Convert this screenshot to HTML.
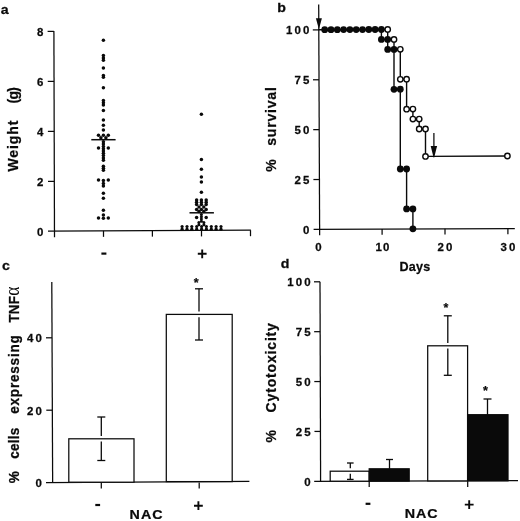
<!DOCTYPE html>
<html><head><meta charset="utf-8"><title>Figure</title>
<style>
html,body{margin:0;padding:0;background:#fff;}
svg{display:block;filter:blur(0.5px);}
text{font-family:"Liberation Sans",Arial,sans-serif;font-weight:bold;fill:#0a0a0a;}
</style></head><body>
<svg width="520" height="521" viewBox="0 0 520 521">
<rect width="520" height="521" fill="#fff"/>
<text transform="translate(0.7 14) scale(1.05 1)" font-size="13.5" text-anchor="start" stroke="#0a0a0a" stroke-width="0.25">a</text>
<line x1="53.90" y1="30.90" x2="54.50" y2="237.30" stroke="#0a0a0a" stroke-width="1.25"/>
<line x1="48.00" y1="231.10" x2="250.90" y2="230.20" stroke="#0a0a0a" stroke-width="1.25"/>
<text transform="translate(45.5 235.9) scale(1.04 1)" font-size="11" text-anchor="end" letter-spacing="2.0" stroke="#0a0a0a" stroke-width="0.25">0</text>
<line x1="48.01" y1="181.40" x2="54.31" y2="181.40" stroke="#0a0a0a" stroke-width="1.25"/>
<text transform="translate(45.5 185.9) scale(1.04 1)" font-size="11" text-anchor="end" letter-spacing="2.0" stroke="#0a0a0a" stroke-width="0.25">2</text>
<line x1="47.88" y1="131.40" x2="54.17" y2="131.40" stroke="#0a0a0a" stroke-width="1.25"/>
<text transform="translate(45.5 135.9) scale(1.04 1)" font-size="11" text-anchor="end" letter-spacing="2.0" stroke="#0a0a0a" stroke-width="0.25">4</text>
<line x1="47.74" y1="81.40" x2="54.04" y2="81.40" stroke="#0a0a0a" stroke-width="1.25"/>
<text transform="translate(45.5 85.9) scale(1.04 1)" font-size="11" text-anchor="end" letter-spacing="2.0" stroke="#0a0a0a" stroke-width="0.25">6</text>
<line x1="47.60" y1="31.40" x2="53.90" y2="31.40" stroke="#0a0a0a" stroke-width="1.25"/>
<text transform="translate(45.5 35.900000000000006) scale(1.04 1)" font-size="11" text-anchor="end" letter-spacing="2.0" stroke="#0a0a0a" stroke-width="0.25">8</text>
<line x1="103.50" y1="230.85" x2="103.50" y2="236.85" stroke="#0a0a0a" stroke-width="1.25"/>
<line x1="152.40" y1="230.64" x2="152.40" y2="236.64" stroke="#0a0a0a" stroke-width="1.25"/>
<line x1="201.50" y1="230.42" x2="201.50" y2="236.42" stroke="#0a0a0a" stroke-width="1.25"/>
<line x1="250.50" y1="230.20" x2="250.50" y2="236.20" stroke="#0a0a0a" stroke-width="1.25"/>
<text transform="translate(18.2 171.5) rotate(-90)" font-size="14" text-anchor="start" textLength="51" lengthAdjust="spacing" stroke="#0a0a0a" stroke-width="0.25">Weight</text>
<text transform="translate(18.2 103.5) rotate(-90)" font-size="14" text-anchor="start" textLength="16.5" lengthAdjust="spacing" stroke="#0a0a0a" stroke-width="0.25">(g)</text>
<rect x="101.4" y="252.5" width="5" height="2.2" fill="#0a0a0a"/>
<path d="M197.79999999999998 253.8h8.8M202.2 249.4v8.8" stroke="#0a0a0a" stroke-width="1.9" fill="none"/>
<circle cx="103.4" cy="40.2" r="1.75" fill="#0a0a0a"/>
<circle cx="103.4" cy="55.6" r="1.75" fill="#0a0a0a"/>
<circle cx="103.4" cy="57.9" r="1.75" fill="#0a0a0a"/>
<circle cx="103.4" cy="60.2" r="1.75" fill="#0a0a0a"/>
<circle cx="103.4" cy="68.1" r="1.75" fill="#0a0a0a"/>
<circle cx="103.4" cy="75.6" r="1.75" fill="#0a0a0a"/>
<circle cx="103.4" cy="77.3" r="1.75" fill="#0a0a0a"/>
<circle cx="103.4" cy="87.7" r="1.75" fill="#0a0a0a"/>
<circle cx="103.4" cy="100.6" r="1.75" fill="#0a0a0a"/>
<circle cx="103.4" cy="102.8" r="1.75" fill="#0a0a0a"/>
<circle cx="103.4" cy="105.0" r="1.75" fill="#0a0a0a"/>
<circle cx="103.4" cy="110.4" r="1.75" fill="#0a0a0a"/>
<circle cx="103.4" cy="120.0" r="1.75" fill="#0a0a0a"/>
<circle cx="103.4" cy="125.2" r="1.75" fill="#0a0a0a"/>
<circle cx="103.4" cy="130.0" r="1.75" fill="#0a0a0a"/>
<circle cx="103.4" cy="166.2" r="1.75" fill="#0a0a0a"/>
<circle cx="103.4" cy="168.2" r="1.75" fill="#0a0a0a"/>
<circle cx="103.4" cy="170.2" r="1.75" fill="#0a0a0a"/>
<circle cx="103.4" cy="180.5" r="1.75" fill="#0a0a0a"/>
<circle cx="103.4" cy="183.4" r="1.75" fill="#0a0a0a"/>
<circle cx="103.4" cy="185.9" r="1.75" fill="#0a0a0a"/>
<circle cx="103.4" cy="193.3" r="1.75" fill="#0a0a0a"/>
<circle cx="103.4" cy="198.3" r="1.75" fill="#0a0a0a"/>
<circle cx="103.4" cy="210.3" r="1.75" fill="#0a0a0a"/>
<circle cx="103.4" cy="215.0" r="1.75" fill="#0a0a0a"/>
<circle cx="103.4" cy="218.3" r="1.75" fill="#0a0a0a"/>
<circle cx="103.4" cy="141.8" r="1.75" fill="#0a0a0a"/>
<circle cx="103.4" cy="144.1" r="1.75" fill="#0a0a0a"/>
<circle cx="103.4" cy="146.4" r="1.75" fill="#0a0a0a"/>
<circle cx="103.4" cy="148.7" r="1.75" fill="#0a0a0a"/>
<circle cx="103.4" cy="151.0" r="1.75" fill="#0a0a0a"/>
<circle cx="103.4" cy="153.3" r="1.75" fill="#0a0a0a"/>
<circle cx="103.4" cy="155.6" r="1.75" fill="#0a0a0a"/>
<circle cx="103.4" cy="157.9" r="1.75" fill="#0a0a0a"/>
<circle cx="103.4" cy="160.2" r="1.75" fill="#0a0a0a"/>
<circle cx="98.5" cy="135.3" r="1.75" fill="#0a0a0a"/>
<circle cx="108.3" cy="135.3" r="1.75" fill="#0a0a0a"/>
<circle cx="98.5" cy="147.9" r="1.75" fill="#0a0a0a"/>
<circle cx="108.3" cy="147.9" r="1.75" fill="#0a0a0a"/>
<circle cx="98.5" cy="180.0" r="1.75" fill="#0a0a0a"/>
<circle cx="108.3" cy="180.0" r="1.75" fill="#0a0a0a"/>
<circle cx="98.5" cy="218.0" r="1.75" fill="#0a0a0a"/>
<circle cx="108.3" cy="218.0" r="1.75" fill="#0a0a0a"/>
<circle cx="103.4" cy="135.3" r="1.75" fill="#0a0a0a"/>
<circle cx="100.9" cy="137.7" r="1.75" fill="#0a0a0a"/>
<circle cx="105.9" cy="137.7" r="1.75" fill="#0a0a0a"/>
<line x1="91.30" y1="139.70" x2="115.60" y2="139.70" stroke="#0a0a0a" stroke-width="1.5"/>
<circle cx="201.4" cy="114.2" r="1.75" fill="#0a0a0a"/>
<circle cx="201.4" cy="159.6" r="1.75" fill="#0a0a0a"/>
<circle cx="201.4" cy="169.3" r="1.75" fill="#0a0a0a"/>
<circle cx="201.4" cy="177.1" r="1.75" fill="#0a0a0a"/>
<circle cx="201.4" cy="182.0" r="1.75" fill="#0a0a0a"/>
<circle cx="201.4" cy="192.2" r="1.75" fill="#0a0a0a"/>
<circle cx="196.6" cy="200.0" r="1.75" fill="#0a0a0a"/>
<circle cx="196.6" cy="202.2" r="1.75" fill="#0a0a0a"/>
<circle cx="196.6" cy="204.6" r="1.75" fill="#0a0a0a"/>
<circle cx="201.4" cy="200.0" r="1.75" fill="#0a0a0a"/>
<circle cx="201.4" cy="202.2" r="1.75" fill="#0a0a0a"/>
<circle cx="201.4" cy="204.6" r="1.75" fill="#0a0a0a"/>
<circle cx="206.2" cy="200.0" r="1.75" fill="#0a0a0a"/>
<circle cx="206.2" cy="202.2" r="1.75" fill="#0a0a0a"/>
<circle cx="206.2" cy="204.6" r="1.75" fill="#0a0a0a"/>
<circle cx="199.0" cy="206.9" r="1.75" fill="#0a0a0a"/>
<circle cx="203.8" cy="206.9" r="1.75" fill="#0a0a0a"/>
<circle cx="196.6" cy="209.5" r="1.75" fill="#0a0a0a"/>
<circle cx="201.4" cy="209.5" r="1.75" fill="#0a0a0a"/>
<circle cx="206.2" cy="209.5" r="1.75" fill="#0a0a0a"/>
<circle cx="199.0" cy="211.5" r="1.75" fill="#0a0a0a"/>
<circle cx="203.8" cy="211.5" r="1.75" fill="#0a0a0a"/>
<line x1="189.50" y1="212.80" x2="213.90" y2="212.80" stroke="#0a0a0a" stroke-width="1.5"/>
<circle cx="201.4" cy="214.5" r="1.5" fill="#0a0a0a"/>
<circle cx="201.4" cy="216.8" r="1.5" fill="#0a0a0a"/>
<circle cx="201.4" cy="219.1" r="1.5" fill="#0a0a0a"/>
<circle cx="196.6" cy="217.5" r="1.75" fill="#0a0a0a"/>
<circle cx="206.2" cy="217.5" r="1.75" fill="#0a0a0a"/>
<circle cx="201.4" cy="221.3" r="1.5" fill="#0a0a0a"/>
<circle cx="198.9" cy="222.6" r="1.5" fill="#0a0a0a"/>
<circle cx="198.9" cy="224.8" r="1.5" fill="#0a0a0a"/>
<circle cx="203.9" cy="222.6" r="1.5" fill="#0a0a0a"/>
<circle cx="203.9" cy="224.8" r="1.5" fill="#0a0a0a"/>
<circle cx="182.1" cy="226.5" r="1.6" fill="#0a0a0a"/>
<circle cx="182.1" cy="229.2" r="1.6" fill="#0a0a0a"/>
<circle cx="187.0" cy="226.5" r="1.6" fill="#0a0a0a"/>
<circle cx="187.0" cy="229.2" r="1.6" fill="#0a0a0a"/>
<circle cx="191.8" cy="226.5" r="1.6" fill="#0a0a0a"/>
<circle cx="191.8" cy="229.2" r="1.6" fill="#0a0a0a"/>
<circle cx="196.7" cy="226.5" r="1.6" fill="#0a0a0a"/>
<circle cx="196.7" cy="229.2" r="1.6" fill="#0a0a0a"/>
<circle cx="201.6" cy="226.5" r="1.6" fill="#0a0a0a"/>
<circle cx="201.6" cy="229.2" r="1.6" fill="#0a0a0a"/>
<circle cx="206.4" cy="226.5" r="1.6" fill="#0a0a0a"/>
<circle cx="206.4" cy="229.2" r="1.6" fill="#0a0a0a"/>
<circle cx="211.3" cy="226.5" r="1.6" fill="#0a0a0a"/>
<circle cx="211.3" cy="229.2" r="1.6" fill="#0a0a0a"/>
<circle cx="216.1" cy="226.5" r="1.6" fill="#0a0a0a"/>
<circle cx="216.1" cy="229.2" r="1.6" fill="#0a0a0a"/>
<circle cx="221.0" cy="226.5" r="1.6" fill="#0a0a0a"/>
<circle cx="221.0" cy="229.2" r="1.6" fill="#0a0a0a"/>
<text transform="translate(277.3 11.8) scale(1.05 1)" font-size="13.5" text-anchor="start" stroke="#0a0a0a" stroke-width="0.25">b</text>
<line x1="318.70" y1="4.50" x2="319.65" y2="235.20" stroke="#0a0a0a" stroke-width="1.25"/>
<line x1="313.60" y1="229.40" x2="514.80" y2="228.50" stroke="#0a0a0a" stroke-width="1.25"/>
<path d="M315.9 18.3 L321.9 18.3 L318.9 29.2 Z" fill="#0a0a0a"/>
<text transform="translate(311.4 233.70000000000002) scale(1.04 1)" font-size="11" text-anchor="end" letter-spacing="2.0" stroke="#0a0a0a" stroke-width="0.25">0</text>
<line x1="313.40" y1="179.53" x2="319.40" y2="179.53" stroke="#0a0a0a" stroke-width="1.25"/>
<text transform="translate(311.4 183.82500000000002) scale(1.04 1)" font-size="11" text-anchor="end" letter-spacing="2.0" stroke="#0a0a0a" stroke-width="0.25">25</text>
<line x1="313.20" y1="129.65" x2="319.20" y2="129.65" stroke="#0a0a0a" stroke-width="1.25"/>
<text transform="translate(311.4 133.95000000000002) scale(1.04 1)" font-size="11" text-anchor="end" letter-spacing="2.0" stroke="#0a0a0a" stroke-width="0.25">50</text>
<line x1="313.00" y1="79.78" x2="319.00" y2="79.78" stroke="#0a0a0a" stroke-width="1.25"/>
<text transform="translate(311.4 84.075) scale(1.04 1)" font-size="11" text-anchor="end" letter-spacing="2.0" stroke="#0a0a0a" stroke-width="0.25">75</text>
<line x1="312.80" y1="29.90" x2="318.80" y2="29.90" stroke="#0a0a0a" stroke-width="1.25"/>
<text transform="translate(311.4 34.2) scale(1.04 1)" font-size="11" text-anchor="end" letter-spacing="2.0" stroke="#0a0a0a" stroke-width="0.25">100</text>
<text transform="translate(319.4 250.6) scale(1.04 1)" font-size="11" text-anchor="middle" letter-spacing="2.0" stroke="#0a0a0a" stroke-width="0.25">0</text>
<line x1="382.10" y1="229.09" x2="382.10" y2="234.79" stroke="#0a0a0a" stroke-width="1.25"/>
<text transform="translate(383.09999999999997 250.6) scale(1.04 1)" font-size="11" text-anchor="middle" letter-spacing="1.3" stroke="#0a0a0a" stroke-width="0.25">10</text>
<line x1="445.00" y1="228.81" x2="445.00" y2="234.51" stroke="#0a0a0a" stroke-width="1.25"/>
<text transform="translate(446.0 250.6) scale(1.04 1)" font-size="11" text-anchor="middle" letter-spacing="2.0" stroke="#0a0a0a" stroke-width="0.25">20</text>
<line x1="507.90" y1="228.53" x2="507.90" y2="234.23" stroke="#0a0a0a" stroke-width="1.25"/>
<text transform="translate(508.9 250.6) scale(1.04 1)" font-size="11" text-anchor="middle" letter-spacing="2.0" stroke="#0a0a0a" stroke-width="0.25">30</text>
<text transform="translate(399.5 270.7) scale(1.03 1)" font-size="12.2" text-anchor="start" letter-spacing="0.2" stroke="#0a0a0a" stroke-width="0.25">Days</text>
<text transform="translate(275.8 171.8) rotate(-90)" font-size="14" text-anchor="start" stroke="#0a0a0a" stroke-width="0.25">%</text>
<text transform="translate(275.8 145.8) rotate(-90)" font-size="14" text-anchor="start" textLength="58.6" lengthAdjust="spacing" stroke="#0a0a0a" stroke-width="0.25">survival</text>
<line x1="433.90" y1="133.00" x2="433.90" y2="150.00" stroke="#0a0a0a" stroke-width="1.25"/>
<path d="M430.7 146 L437.1 146 L434.2 157.6 L433.6 157.6 Z" fill="#0a0a0a"/>
<polyline fill="none" stroke="#0a0a0a" stroke-width="1.4" points="318.4,29.8 387.7,29.4 387.7,39.4 394.0,39.4 394.0,49.4 400.3,49.3 400.3,79.3 406.6,79.2 406.6,109.2 412.9,109.1 412.9,119.1 419.2,119.1 419.2,129.0 425.5,129.0 425.5,156.4 507.4,156.0"/>
<polyline fill="none" stroke="#0a0a0a" stroke-width="1.4" points="324.7,29.7 381.4,29.5 381.4,39.4 387.7,39.4 387.7,49.4 394.0,49.4 394.0,89.3 400.3,89.2 400.3,169.0 406.6,169.0 406.6,208.9 412.9,208.9 412.9,228.8"/>
<circle cx="387.7" cy="29.4" r="2.7" fill="#fff" stroke="#0a0a0a" stroke-width="1.4"/>
<circle cx="394.0" cy="39.4" r="2.7" fill="#fff" stroke="#0a0a0a" stroke-width="1.4"/>
<circle cx="400.3" cy="49.3" r="2.7" fill="#fff" stroke="#0a0a0a" stroke-width="1.4"/>
<circle cx="400.3" cy="79.3" r="2.7" fill="#fff" stroke="#0a0a0a" stroke-width="1.4"/>
<circle cx="406.6" cy="79.2" r="2.7" fill="#fff" stroke="#0a0a0a" stroke-width="1.4"/>
<circle cx="406.6" cy="109.2" r="2.7" fill="#fff" stroke="#0a0a0a" stroke-width="1.4"/>
<circle cx="412.9" cy="109.1" r="2.7" fill="#fff" stroke="#0a0a0a" stroke-width="1.4"/>
<circle cx="412.9" cy="119.1" r="2.7" fill="#fff" stroke="#0a0a0a" stroke-width="1.4"/>
<circle cx="419.2" cy="119.1" r="2.7" fill="#fff" stroke="#0a0a0a" stroke-width="1.4"/>
<circle cx="419.2" cy="129.0" r="2.7" fill="#fff" stroke="#0a0a0a" stroke-width="1.4"/>
<circle cx="425.5" cy="129.0" r="2.7" fill="#fff" stroke="#0a0a0a" stroke-width="1.4"/>
<circle cx="425.5" cy="156.4" r="2.7" fill="#fff" stroke="#0a0a0a" stroke-width="1.4"/>
<circle cx="507.4" cy="156.0" r="2.7" fill="#fff" stroke="#0a0a0a" stroke-width="1.4"/>
<circle cx="324.7" cy="29.7" r="3.4" fill="#0a0a0a"/>
<circle cx="331.0" cy="29.7" r="3.4" fill="#0a0a0a"/>
<circle cx="337.3" cy="29.7" r="3.4" fill="#0a0a0a"/>
<circle cx="343.6" cy="29.6" r="3.4" fill="#0a0a0a"/>
<circle cx="349.9" cy="29.6" r="3.4" fill="#0a0a0a"/>
<circle cx="356.2" cy="29.6" r="3.4" fill="#0a0a0a"/>
<circle cx="362.5" cy="29.6" r="3.4" fill="#0a0a0a"/>
<circle cx="368.8" cy="29.5" r="3.4" fill="#0a0a0a"/>
<circle cx="375.1" cy="29.5" r="3.4" fill="#0a0a0a"/>
<circle cx="381.4" cy="29.5" r="3.4" fill="#0a0a0a"/>
<circle cx="381.4" cy="39.4" r="3.4" fill="#0a0a0a"/>
<circle cx="387.7" cy="39.4" r="3.4" fill="#0a0a0a"/>
<circle cx="387.7" cy="49.4" r="3.4" fill="#0a0a0a"/>
<circle cx="394.0" cy="49.4" r="3.4" fill="#0a0a0a"/>
<circle cx="394.0" cy="89.3" r="3.4" fill="#0a0a0a"/>
<circle cx="400.3" cy="89.2" r="3.4" fill="#0a0a0a"/>
<circle cx="400.3" cy="169.0" r="3.4" fill="#0a0a0a"/>
<circle cx="406.6" cy="169.0" r="3.4" fill="#0a0a0a"/>
<circle cx="406.6" cy="208.9" r="3.4" fill="#0a0a0a"/>
<circle cx="412.9" cy="208.9" r="3.4" fill="#0a0a0a"/>
<circle cx="412.9" cy="228.8" r="3.4" fill="#0a0a0a"/>
<text transform="translate(2 270) scale(1.05 1)" font-size="13.5" text-anchor="start" stroke="#0a0a0a" stroke-width="0.25">c</text>
<line x1="51.80" y1="282.00" x2="52.65" y2="482.60" stroke="#0a0a0a" stroke-width="1.25"/>
<line x1="46.00" y1="482.60" x2="249.40" y2="481.30" stroke="#0a0a0a" stroke-width="1.25"/>
<text transform="translate(44.0 486.90000000000003) scale(1.04 1)" font-size="11" text-anchor="end" letter-spacing="2.0" stroke="#0a0a0a" stroke-width="0.25">0</text>
<line x1="46.29" y1="410.20" x2="52.29" y2="410.20" stroke="#0a0a0a" stroke-width="1.25"/>
<text transform="translate(44.0 414.50000000000006) scale(1.04 1)" font-size="11" text-anchor="end" letter-spacing="2.0" stroke="#0a0a0a" stroke-width="0.25">20</text>
<line x1="45.98" y1="337.80" x2="51.98" y2="337.80" stroke="#0a0a0a" stroke-width="1.25"/>
<text transform="translate(44.0 342.1) scale(1.04 1)" font-size="11" text-anchor="end" letter-spacing="2.0" stroke="#0a0a0a" stroke-width="0.25">40</text>
<rect x="68.8" y="438.8" width="65.2" height="43.4" fill="#fff" stroke="#0a0a0a" stroke-width="1.25"/>
<line x1="101.30" y1="417.00" x2="101.30" y2="436.00" stroke="#0a0a0a" stroke-width="1.3"/>
<line x1="101.30" y1="441.60" x2="101.30" y2="460.50" stroke="#0a0a0a" stroke-width="1.3"/>
<line x1="97.30" y1="417.00" x2="105.30" y2="417.00" stroke="#0a0a0a" stroke-width="1.3"/>
<line x1="97.30" y1="460.50" x2="105.30" y2="460.50" stroke="#0a0a0a" stroke-width="1.3"/>
<rect x="166.3" y="314.4" width="65.9" height="167.2" fill="#fff" stroke="#0a0a0a" stroke-width="1.25"/>
<line x1="199.00" y1="288.80" x2="199.00" y2="311.60" stroke="#0a0a0a" stroke-width="1.3"/>
<line x1="199.00" y1="317.20" x2="199.00" y2="340.00" stroke="#0a0a0a" stroke-width="1.3"/>
<line x1="195.00" y1="288.80" x2="203.00" y2="288.80" stroke="#0a0a0a" stroke-width="1.3"/>
<line x1="195.00" y1="340.00" x2="203.00" y2="340.00" stroke="#0a0a0a" stroke-width="1.3"/>
<line x1="101.30" y1="482.60" x2="101.30" y2="488.40" stroke="#0a0a0a" stroke-width="1.25"/>
<line x1="199.20" y1="482.60" x2="199.20" y2="488.40" stroke="#0a0a0a" stroke-width="1.25"/>
<text transform="translate(196.1 286.8)" font-size="12.5" text-anchor="middle" stroke="#0a0a0a" stroke-width="0.2">*</text>
<rect x="95.3" y="503.9" width="4.8" height="2.2" fill="#0a0a0a"/>
<path d="M194.0 505.7h8.8M198.4 501.3v8.8" stroke="#0a0a0a" stroke-width="1.9" fill="none"/>
<text transform="translate(129.6 518.5) scale(1.1 1)" font-size="13" text-anchor="start" letter-spacing="0.9" stroke="#0a0a0a" stroke-width="0.25">NAC</text>
<text transform="translate(19.3 483.2) rotate(-90) scale(1 1.15)" font-size="13.5" text-anchor="start" stroke="#0a0a0a" stroke-width="0.25">%</text>
<text transform="translate(19.3 458.7) rotate(-90) scale(1 1.15)" font-size="13.5" text-anchor="start" textLength="31" lengthAdjust="spacing" stroke="#0a0a0a" stroke-width="0.25">cells</text>
<text transform="translate(19.3 413.8) rotate(-90) scale(1 1.15)" font-size="13.5" text-anchor="start" textLength="78.6" lengthAdjust="spacing" stroke="#0a0a0a" stroke-width="0.25">expressing</text>
<text transform="translate(19.3 322.6) rotate(-90) scale(1 1.15)" font-size="13.5" text-anchor="start" letter-spacing="0.2" stroke="#0a0a0a" stroke-width="0.25">TNF<tspan font-family="Liberation Serif,DejaVu Serif,serif" font-weight="normal" stroke="none" font-size="17.5">α</tspan></text>
<text transform="translate(280.8 268) scale(1.05 1)" font-size="13.5" text-anchor="start" stroke="#0a0a0a" stroke-width="0.25">d</text>
<line x1="320.00" y1="281.80" x2="320.60" y2="481.30" stroke="#0a0a0a" stroke-width="1.25"/>
<line x1="314.20" y1="481.30" x2="518.00" y2="480.70" stroke="#0a0a0a" stroke-width="1.25"/>
<text transform="translate(312.6 485.6) scale(1.04 1)" font-size="11" text-anchor="end" letter-spacing="2.0" stroke="#0a0a0a" stroke-width="0.25">0</text>
<line x1="314.45" y1="431.43" x2="320.45" y2="431.43" stroke="#0a0a0a" stroke-width="1.25"/>
<text transform="translate(312.6 435.725) scale(1.04 1)" font-size="11" text-anchor="end" letter-spacing="2.0" stroke="#0a0a0a" stroke-width="0.25">25</text>
<line x1="314.30" y1="381.55" x2="320.30" y2="381.55" stroke="#0a0a0a" stroke-width="1.25"/>
<text transform="translate(312.6 385.85) scale(1.04 1)" font-size="11" text-anchor="end" letter-spacing="2.0" stroke="#0a0a0a" stroke-width="0.25">50</text>
<line x1="314.15" y1="331.68" x2="320.15" y2="331.68" stroke="#0a0a0a" stroke-width="1.25"/>
<text transform="translate(312.6 335.975) scale(1.04 1)" font-size="11" text-anchor="end" letter-spacing="2.0" stroke="#0a0a0a" stroke-width="0.25">75</text>
<line x1="314.00" y1="281.80" x2="320.00" y2="281.80" stroke="#0a0a0a" stroke-width="1.25"/>
<text transform="translate(312.6 286.1) scale(1.04 1)" font-size="11" text-anchor="end" letter-spacing="2.0" stroke="#0a0a0a" stroke-width="0.25">100</text>
<rect x="330.2" y="471.2" width="39.0" height="10.0" fill="#fff" stroke="#0a0a0a" stroke-width="1.25"/>
<line x1="350.30" y1="463.00" x2="350.30" y2="468.20" stroke="#0a0a0a" stroke-width="1.3"/>
<line x1="350.30" y1="473.80" x2="350.30" y2="479.40" stroke="#0a0a0a" stroke-width="1.3"/>
<line x1="347.00" y1="463.00" x2="353.60" y2="463.00" stroke="#0a0a0a" stroke-width="1.3"/>
<line x1="347.00" y1="479.40" x2="353.60" y2="479.40" stroke="#0a0a0a" stroke-width="1.3"/>
<rect x="369.2" y="468.8" width="40.0" height="12.3" fill="#0a0a0a" stroke="#0a0a0a" stroke-width="1.25"/>
<line x1="389.50" y1="459.50" x2="389.50" y2="468.80" stroke="#0a0a0a" stroke-width="1.3"/>
<line x1="386.00" y1="459.50" x2="393.00" y2="459.50" stroke="#0a0a0a" stroke-width="1.3"/>
<rect x="427.7" y="345.8" width="39.9" height="135.1" fill="#fff" stroke="#0a0a0a" stroke-width="1.25"/>
<line x1="447.80" y1="315.80" x2="447.80" y2="343.00" stroke="#0a0a0a" stroke-width="1.3"/>
<line x1="447.80" y1="348.60" x2="447.80" y2="375.30" stroke="#0a0a0a" stroke-width="1.3"/>
<line x1="443.80" y1="315.80" x2="451.80" y2="315.80" stroke="#0a0a0a" stroke-width="1.3"/>
<line x1="443.80" y1="375.30" x2="451.80" y2="375.30" stroke="#0a0a0a" stroke-width="1.3"/>
<rect x="467.6" y="414.7" width="40.4" height="66.1" fill="#0a0a0a" stroke="#0a0a0a" stroke-width="1.25"/>
<line x1="487.50" y1="399.00" x2="487.50" y2="414.70" stroke="#0a0a0a" stroke-width="1.3"/>
<line x1="483.50" y1="399.00" x2="491.50" y2="399.00" stroke="#0a0a0a" stroke-width="1.3"/>
<line x1="369.20" y1="481.30" x2="369.20" y2="487.10" stroke="#0a0a0a" stroke-width="1.25"/>
<line x1="467.70" y1="481.30" x2="467.70" y2="487.10" stroke="#0a0a0a" stroke-width="1.25"/>
<text transform="translate(446 311.8)" font-size="12.5" text-anchor="middle" stroke="#0a0a0a" stroke-width="0.2">*</text>
<text transform="translate(485.5 394.8)" font-size="12.5" text-anchor="middle" stroke="#0a0a0a" stroke-width="0.2">*</text>
<rect x="365.6" y="502.7" width="4.8" height="2.2" fill="#0a0a0a"/>
<path d="M464.8 504.6h8.8M469.2 500.20000000000005v8.8" stroke="#0a0a0a" stroke-width="1.9" fill="none"/>
<text transform="translate(404.7 517.8) scale(1.1 1)" font-size="13" text-anchor="start" letter-spacing="0.9" stroke="#0a0a0a" stroke-width="0.25">NAC</text>
<text transform="translate(275.8 442.6) rotate(-90)" font-size="14" text-anchor="start" stroke="#0a0a0a" stroke-width="0.25">%</text>
<text transform="translate(275.8 412.4) rotate(-90)" font-size="14" text-anchor="start" textLength="89.3" lengthAdjust="spacing" stroke="#0a0a0a" stroke-width="0.25">Cytotoxicity</text>
</svg>
</body></html>
